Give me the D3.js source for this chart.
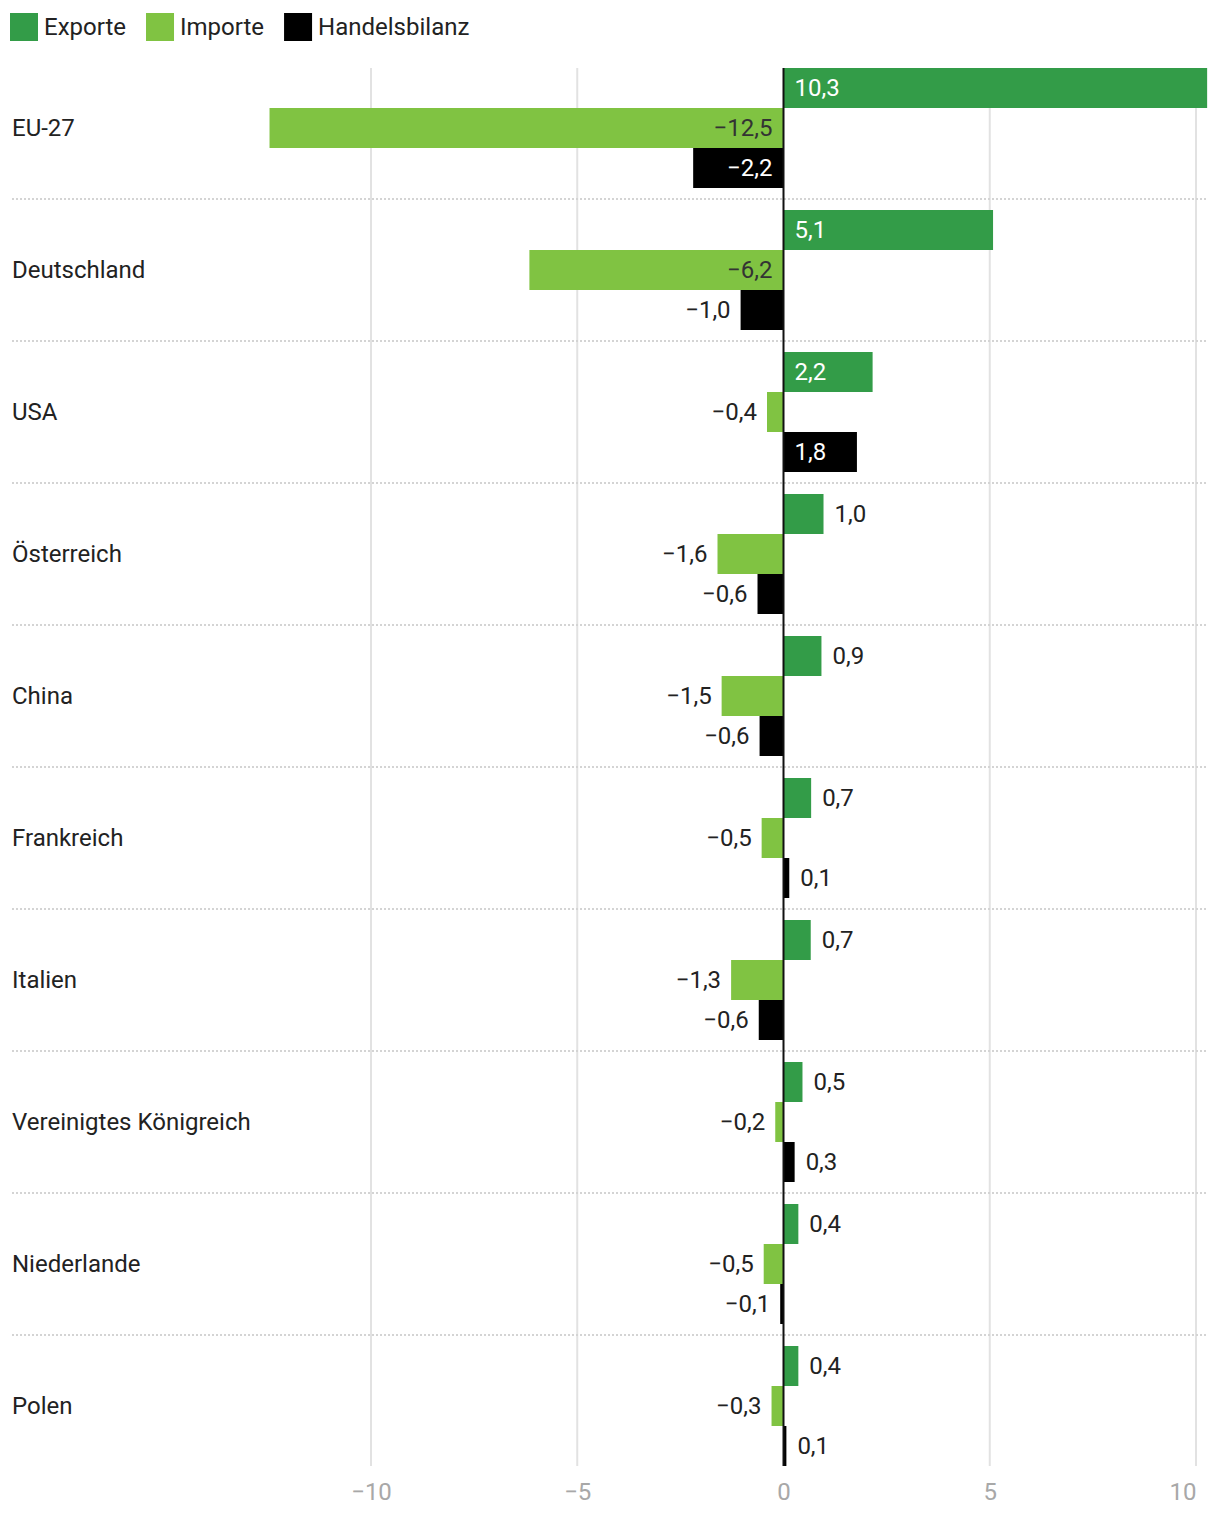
<!DOCTYPE html>
<html>
<head>
<meta charset="utf-8">
<script src="https://cdn.jsdelivr.net/npm/d3@7"></script>
<style>
  html, body { margin: 0; padding: 0; background: #fff; }
  svg { display: block; font-family: Roboto, "Noto Sans", sans-serif; }
</style>
</head>
<body>
<svg id="chart" width="1220" height="1514"></svg>
<script>
const categories = ["EU-27", "Deutschland", "USA", "Österreich", "China", "Frankreich", "Italien", "Vereinigtes Königreich", "Niederlande", "Polen"];
const seriesNames = ["Exporte", "Importe", "Handelsbilanz"];
const exporte = [10.27, 5.08, 2.16, 0.97, 0.92, 0.67, 0.66, 0.46, 0.36, 0.36];
const importe = [-12.46, -6.16, -0.4, -1.6, -1.5, -0.53, -1.27, -0.2, -0.48, -0.29];
const handelsbilanz = [-2.19, -1.04, 1.78, -0.63, -0.58, 0.14, -0.6, 0.27, -0.08, 0.07];
const tickValues = [-10, -5, 0, 5, 10];

const colors = { "Exporte": "#339c48", "Importe": "#80c342", "Handelsbilanz": "#000000" };
const insideText = { "Exporte": "#ffffff", "Importe": "#333333", "Handelsbilanz": "#ffffff" };
const seriesData = { "Exporte": exporte, "Importe": importe, "Handelsbilanz": handelsbilanz };

const locale = d3.formatLocale({ decimal: ",", thousands: ".", grouping: [3], currency: ["", " €"], minus: "\u2212" });
const fmt = locale.format(".1f");
const tickFmt = locale.format("d");

const FS = 24;

const svg = d3.select("#chart");

const x = d3.scaleLinear().domain([-10, 10]).range([371, 1196]);
const y = d3.scaleBand().domain(categories).range([57, 1477]).paddingInner(22 / 142).paddingOuter(11 / 142);
const ySub = d3.scaleBand().domain(seriesNames).range([0, y.bandwidth()]);

const plotTop = y(categories[0]);
const plotBottom = y(categories[categories.length - 1]) + y.bandwidth();

// Legend
const legend = svg.append("g").attr("class", "legend");
let lx = 10;
seriesNames.forEach(name => {
  const g = legend.append("g").attr("transform", `translate(${lx},13)`);
  g.append("rect").attr("width", 28).attr("height", 28).attr("fill", colors[name]);
  const t = g.append("text").attr("x", 34).attr("y", 14).attr("dy", "0.35em")
    .attr("font-size", 24).attr("fill", "#222").text(name);
  lx += 34 + t.node().getComputedTextLength() + 20;
});

// Gridlines
svg.append("g").selectAll("line").data(tickValues.filter(d => d !== 0)).join("line")
  .attr("x1", d => x(d)).attr("x2", d => x(d))
  .attr("y1", plotTop).attr("y2", plotBottom)
  .attr("stroke", "#e2e2e2").attr("stroke-width", 2);

// Separators
svg.append("g").selectAll("line").data(categories.slice(0, -1)).join("line")
  .attr("x1", 12).attr("x2", 1208)
  .attr("y1", d => y(d) + y.bandwidth() + 11).attr("y2", d => y(d) + y.bandwidth() + 11)
  .attr("stroke", "#d4d4d4").attr("stroke-width", 2).attr("stroke-dasharray", "2,2");

// Axis
const axis = d3.axisBottom(x).tickValues(tickValues).tickFormat(tickFmt).tickSize(0).tickPadding(0);
const axisG = svg.append("g").attr("transform", `translate(0,${plotBottom})`).call(axis);
axisG.select(".domain").remove();
axisG.selectAll("text").attr("font-size", FS).attr("fill", "#a8a8a8")
  .attr("font-family", "Roboto, sans-serif").attr("y", 26).attr("dy", "0.35em")
  .attr("text-anchor", (d, i, n) => i === n.length - 1 ? "end" : "middle");

// Category labels
svg.append("g").selectAll("text").data(categories).join("text")
  .attr("x", 12).attr("y", d => y(d) + y.bandwidth() / 2).attr("dy", "0.35em")
  .attr("font-size", FS).attr("fill", "#222").text(d => d);

// Bars and labels
const groups = svg.append("g").selectAll("g").data(categories).join("g")
  .attr("transform", d => `translate(0,${y(d)})`);

groups.each(function(cat, i) {
  const g = d3.select(this);
  seriesNames.forEach(name => {
    const v = seriesData[name][i];
    const x0 = x(Math.min(0, v)), x1 = x(Math.max(0, v));
    const yy = ySub(name), h = ySub.bandwidth();
    g.append("rect").attr("x", x0).attr("y", yy).attr("width", x1 - x0).attr("height", h)
      .attr("fill", colors[name]);
    const t = g.append("text").attr("y", yy + h / 2).attr("dy", "0.35em")
      .attr("font-size", FS).text(fmt(v));
    const tw = t.node().getComputedTextLength();
    const bw = x1 - x0;
    const inside = bw >= tw + 30;
    if (v >= 0) {
      if (inside) t.attr("x", x(0) + 11).attr("text-anchor", "start").attr("fill", insideText[name]);
      else t.attr("x", x1 + 11).attr("text-anchor", "start").attr("fill", "#222");
    } else {
      if (inside) t.attr("x", x(0) - 11).attr("text-anchor", "end").attr("fill", insideText[name]);
      else t.attr("x", x0 - 10).attr("text-anchor", "end").attr("fill", "#222");
    }
  });
});

// Zero line
svg.append("line").attr("x1", x(0)).attr("x2", x(0)).attr("y1", plotTop).attr("y2", plotBottom)
  .attr("stroke", "#111").attr("stroke-width", 2);
</script>
</body>
</html>
